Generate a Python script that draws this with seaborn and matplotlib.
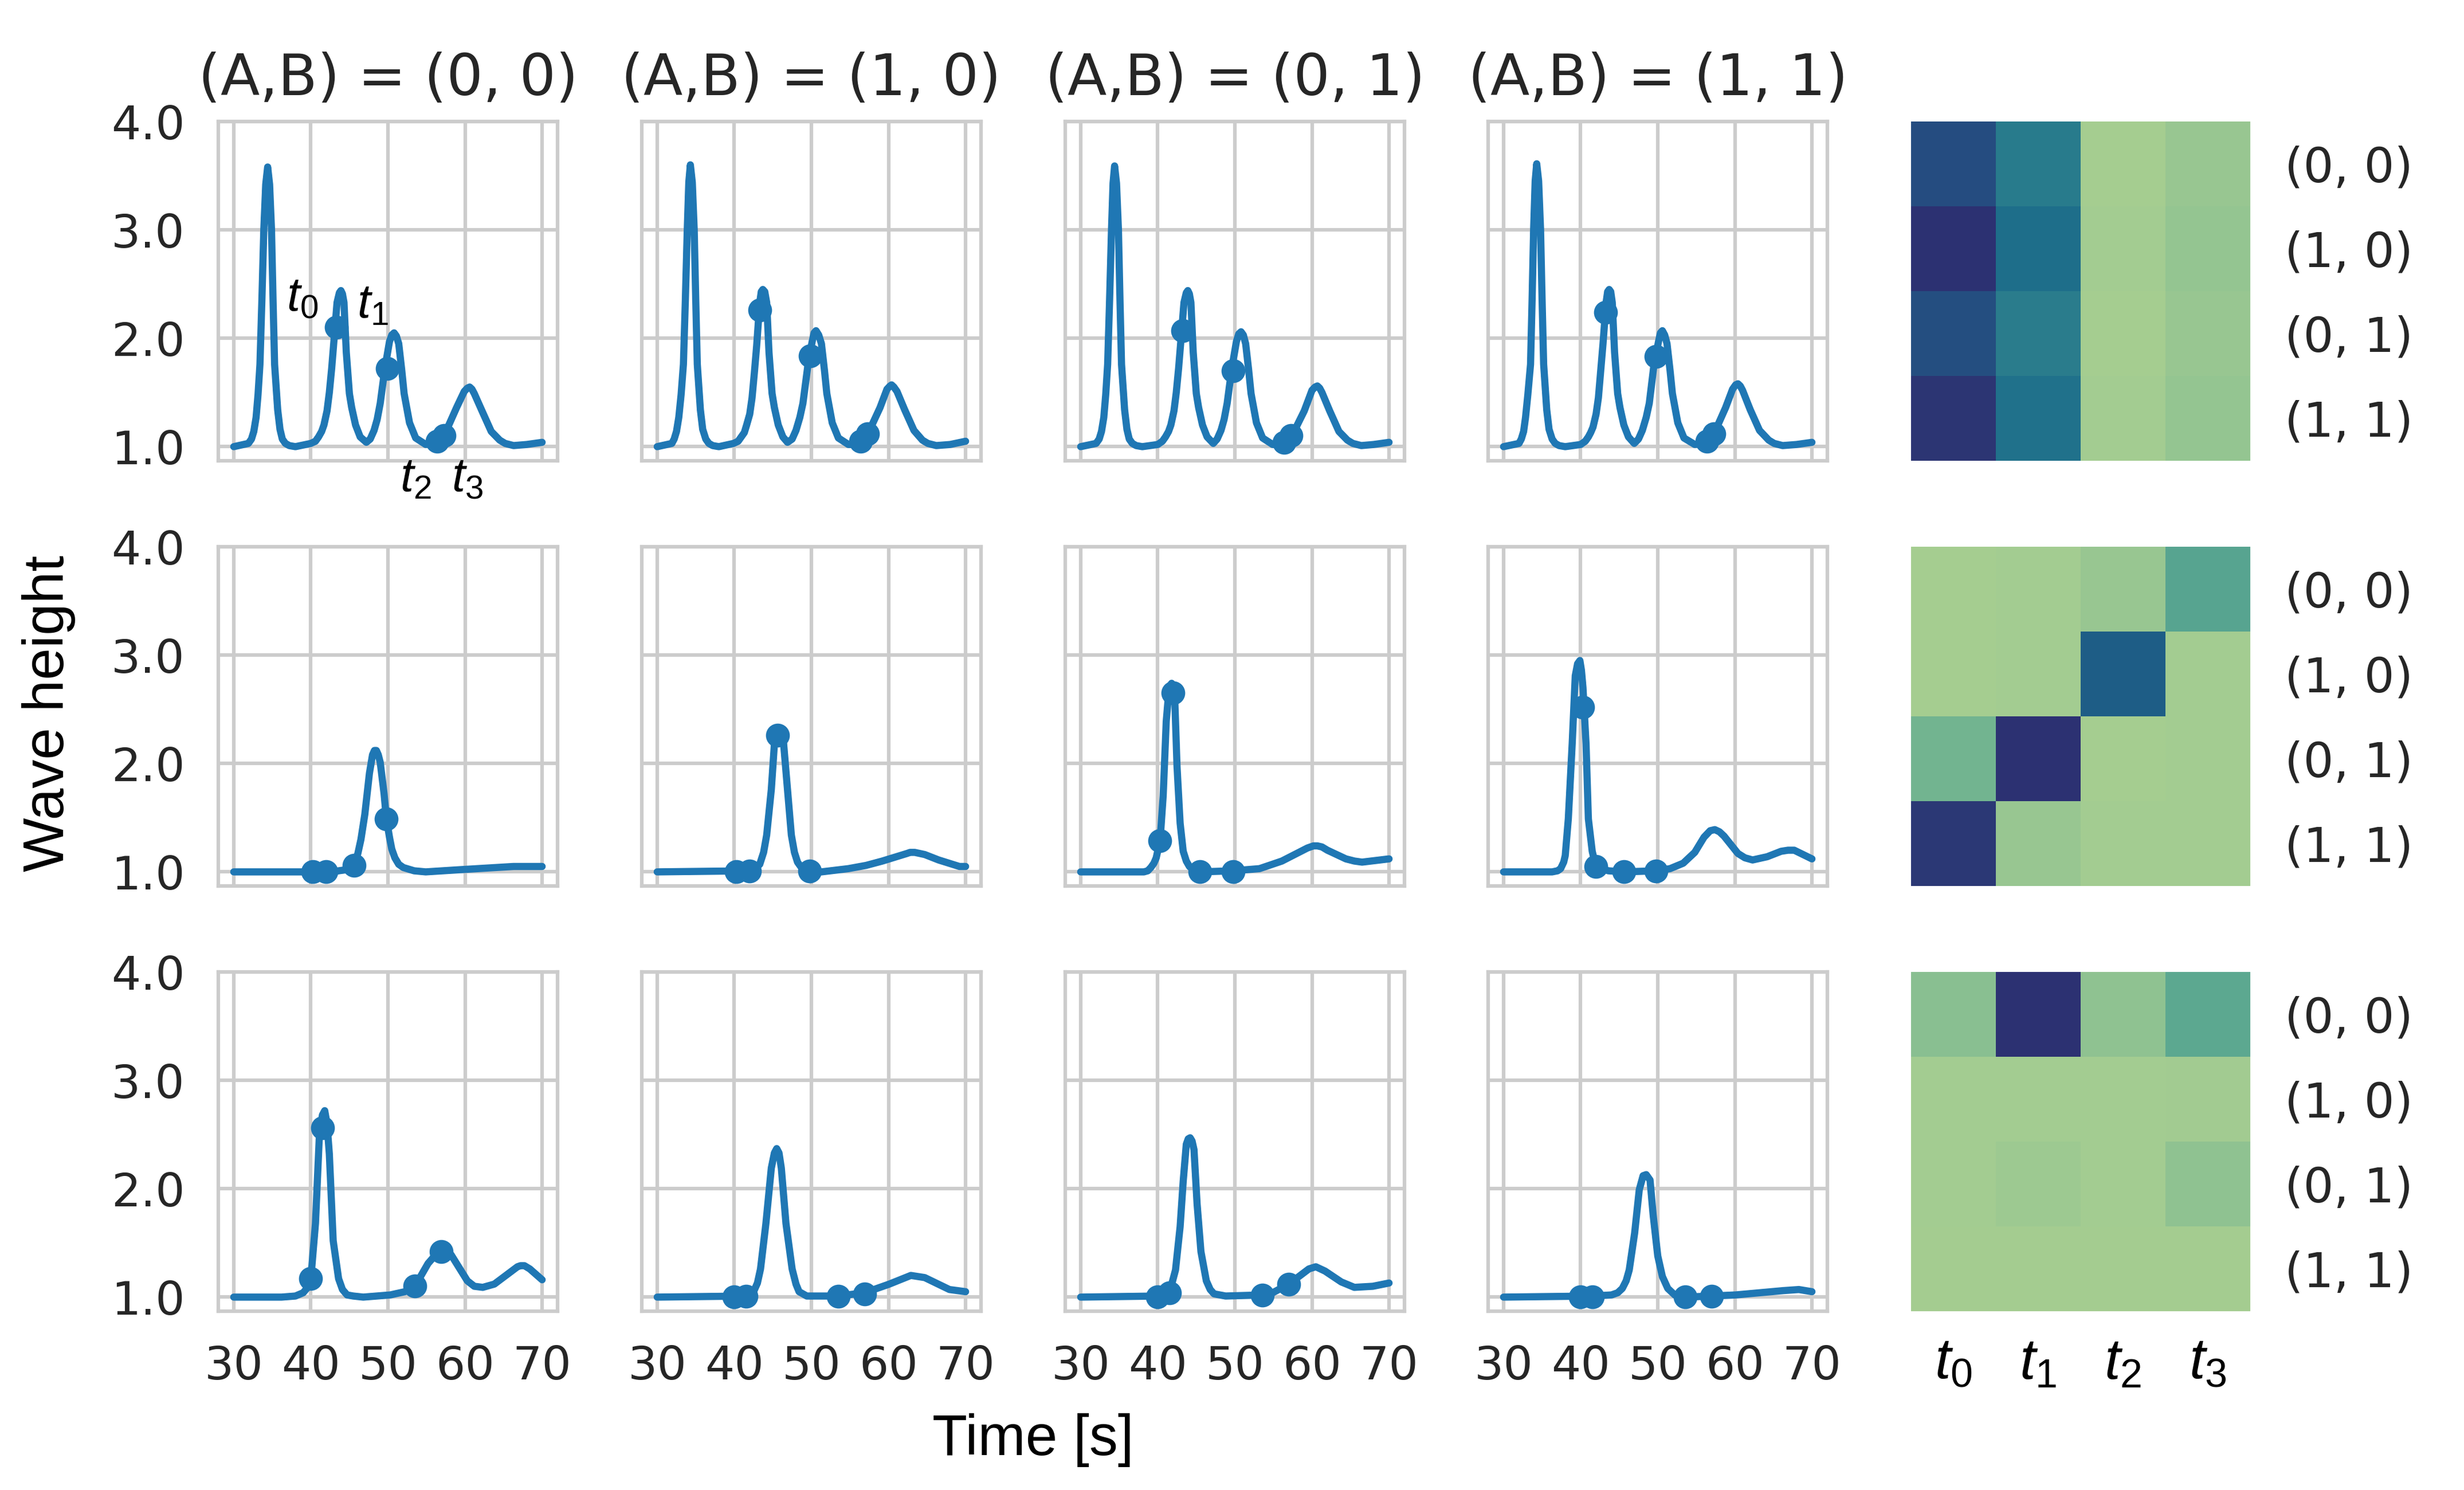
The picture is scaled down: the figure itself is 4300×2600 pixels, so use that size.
import matplotlib
matplotlib.use("Agg")
import matplotlib.pyplot as plt
import numpy as np
import seaborn as sns

# --- wave curves, one pair of lists per panel ---
t_r0c0 = [30, 31.9, 32.3, 32.6, 32.9, 33.15, 33.4, 33.65, 33.9, 34.15, 34.4, 34.65, 34.9, 35.1, 35.3, 35.7, 36, 36.3, 36.7, 37.2, 38, 40, 40.6, 41, 41.4, 41.7, 42.1, 42.4, 42.7, 43, 43.4, 43.7, 43.9, 44.1, 44.3, 44.6, 45, 45.3, 45.8, 46.4, 47.2, 47.7, 48.2, 48.6, 49, 49.6, 50.2, 50.5, 50.8, 51.1, 51.4, 51.8, 52.1, 52.8, 53.6, 54.9, 56.4, 57.4, 58.9, 59.9, 60.3, 60.6, 60.9, 61.2, 62.2, 63.4, 64.5, 65.2, 66.3, 68, 70]
h_r0c0 = [1, 1.03, 1.07, 1.14, 1.27, 1.48, 1.76, 2.35, 3.0, 3.42, 3.58, 3.42, 3.0, 2.35, 1.76, 1.34, 1.16, 1.07, 1.03, 1.01, 1, 1.03, 1.05, 1.09, 1.14, 1.2, 1.33, 1.5, 1.72, 1.98, 2.33, 2.42, 2.44, 2.41, 2.33, 1.87, 1.49, 1.36, 1.2, 1.09, 1.04, 1.07, 1.15, 1.25, 1.4, 1.72, 1.97, 2.03, 2.05, 2.02, 1.95, 1.7, 1.49, 1.22, 1.08, 1.02, 1.03, 1.12, 1.36, 1.51, 1.54, 1.55, 1.53, 1.49, 1.33, 1.14, 1.06, 1.03, 1.01, 1.02, 1.04]
t_r0c1 = [30, 31.9, 32.2, 32.5, 32.8, 33.1, 33.4, 33.65, 33.9, 34.1, 34.3, 34.55, 34.8, 35, 35.2, 35.6, 35.9, 36.3, 36.7, 37.2, 38, 39.9, 40.5, 41, 41.3, 41.6, 42, 42.3, 42.6, 42.9, 43.3, 43.5, 43.7, 43.95, 44.2, 44.5, 44.9, 45.2, 45.7, 46.3, 46.9, 47.5, 48, 48.5, 48.9, 49.6, 50.1, 50.35, 50.6, 50.95, 51.3, 51.7, 52, 52.7, 53.5, 54.8, 56.5, 57.4, 58.9, 59.8, 60.2, 60.4, 60.7, 61.1, 62.1, 63.3, 64.4, 65.1, 66.2, 68, 70]
h_r0c1 = [1, 1.03, 1.07, 1.14, 1.27, 1.48, 1.76, 2.35, 3.0, 3.44, 3.6, 3.44, 3.0, 2.35, 1.76, 1.34, 1.16, 1.07, 1.03, 1.01, 1, 1.03, 1.05, 1.1, 1.13, 1.2, 1.3, 1.45, 1.68, 1.93, 2.33, 2.43, 2.45, 2.43, 2.33, 1.87, 1.49, 1.36, 1.2, 1.09, 1.04, 1.07, 1.15, 1.27, 1.4, 1.78, 1.97, 2.05, 2.07, 2.03, 1.95, 1.7, 1.49, 1.22, 1.08, 1.02, 1.02, 1.13, 1.36, 1.53, 1.56, 1.57, 1.55, 1.51, 1.34, 1.15, 1.06, 1.03, 1.01, 1.02, 1.05]
t_r0c2 = [30, 32, 32.4, 32.7, 33, 33.25, 33.5, 33.75, 34, 34.2, 34.4, 34.65, 34.9, 35.1, 35.3, 35.7, 36, 36.3, 36.7, 37.2, 38, 40, 40.6, 41, 41.4, 41.7, 42.1, 42.4, 42.7, 43, 43.4, 43.7, 43.9, 44.1, 44.3, 44.6, 45, 45.3, 45.8, 46.4, 47.2, 47.7, 48.2, 48.6, 49, 49.6, 50.2, 50.5, 50.8, 51.1, 51.4, 51.8, 52.1, 52.8, 53.6, 54.9, 56.4, 57.4, 59, 60, 60.4, 60.7, 61, 61.3, 62.3, 63.5, 64.6, 65.3, 66.4, 68, 70]
h_r0c2 = [1, 1.03, 1.07, 1.14, 1.27, 1.48, 1.76, 2.35, 3.0, 3.43, 3.59, 3.43, 3.0, 2.35, 1.76, 1.34, 1.16, 1.07, 1.03, 1.01, 1, 1.02, 1.05, 1.09, 1.14, 1.2, 1.33, 1.5, 1.72, 1.98, 2.33, 2.42, 2.44, 2.41, 2.33, 1.87, 1.49, 1.36, 1.2, 1.09, 1.03, 1.07, 1.15, 1.25, 1.4, 1.72, 1.97, 2.04, 2.06, 2.03, 1.95, 1.7, 1.49, 1.22, 1.08, 1.02, 1.02, 1.1, 1.33, 1.52, 1.55, 1.56, 1.54, 1.5, 1.33, 1.14, 1.06, 1.03, 1.01, 1.02, 1.04]
t_r0c3 = [30, 32, 32.3, 32.6, 32.85, 33.15, 33.5, 33.7, 33.9, 34.1, 34.3, 34.55, 34.8, 35, 35.2, 35.6, 35.9, 36.3, 36.7, 37.2, 38, 40, 40.6, 41, 41.3, 41.6, 42, 42.3, 42.6, 42.9, 43.3, 43.5, 43.7, 43.9, 44.1, 44.4, 44.8, 45.1, 45.6, 46.2, 46.95, 47.5, 48, 48.5, 48.9, 49.5, 50.1, 50.35, 50.6, 50.9, 51.2, 51.6, 51.9, 52.6, 53.4, 54.8, 56.4, 57.3, 58.8, 59.7, 60.1, 60.4, 60.7, 61, 62, 63.2, 64.4, 65.1, 66.2, 68, 70]
h_r0c3 = [1, 1.03, 1.07, 1.14, 1.27, 1.48, 1.76, 2.35, 3.0, 3.45, 3.61, 3.45, 3.0, 2.35, 1.76, 1.34, 1.16, 1.07, 1.03, 1.01, 1, 1.02, 1.05, 1.09, 1.13, 1.18, 1.3, 1.45, 1.7, 1.95, 2.33, 2.43, 2.45, 2.43, 2.33, 1.87, 1.49, 1.36, 1.2, 1.09, 1.03, 1.07, 1.15, 1.27, 1.4, 1.75, 1.97, 2.05, 2.07, 2.03, 1.95, 1.7, 1.49, 1.22, 1.08, 1.02, 1.03, 1.12, 1.36, 1.53, 1.57, 1.58, 1.56, 1.52, 1.34, 1.15, 1.06, 1.03, 1.01, 1.02, 1.04]

t_r1c0 = [30, 42.9, 43.6, 44.6, 45.2, 45.6, 46.1, 46.5, 47, 47.6, 48, 48.25, 48.5, 48.75, 49, 49.5, 49.8, 50.2, 50.5, 50.9, 51.4, 52, 53.4, 54.9, 59.3, 66.3, 70]
h_r1c0 = [1, 1, 1.01, 1.02, 1.03, 1.06, 1.17, 1.3, 1.53, 1.91, 2.08, 2.12, 2.12, 2.08, 2.01, 1.72, 1.49, 1.32, 1.21, 1.13, 1.07, 1.04, 1.01, 1, 1.02, 1.05, 1.05]
t_r1c1 = [30, 42, 42.7, 43.3, 43.8, 44.2, 44.8, 45.2, 45.45, 45.7, 45.95, 46.4, 46.9, 47.4, 47.8, 48.2, 48.7, 49.2, 51.3, 54.8, 57.1, 59.2, 62.4, 62.8, 63.4, 64.7, 66.5, 69.2, 70]
h_r1c1 = [1, 1.01, 1.03, 1.07, 1.18, 1.34, 1.76, 2.18, 2.29, 2.32, 2.29, 2.18, 1.76, 1.34, 1.18, 1.09, 1.04, 1.01, 1, 1.03, 1.06, 1.1, 1.17, 1.18, 1.18, 1.16, 1.11, 1.05, 1.05]
t_r1c2 = [30, 38.2, 38.7, 39.1, 39.5, 39.8, 40.3, 40.7, 41.1, 41.4, 41.6, 41.8, 42, 42.2, 42.5, 42.9, 43.3, 43.7, 44.1, 44.6, 45.5, 49.8, 53.2, 56.1, 59.4, 60.2, 60.7, 61.3, 62, 64.4, 65.5, 66.5, 70]
h_r1c2 = [1, 1, 1.01, 1.04, 1.08, 1.13, 1.29, 1.7, 2.39, 2.64, 2.72, 2.74, 2.7, 2.6, 1.97, 1.45, 1.19, 1.1, 1.05, 1.02, 1, 1.01, 1.03, 1.1, 1.22, 1.24, 1.24, 1.23, 1.2, 1.12, 1.1, 1.09, 1.12]
t_r1c3 = [30, 36.3, 37, 37.4, 37.8, 38, 38.4, 38.9, 39.3, 39.6, 39.9, 40.1, 40.3, 40.7, 41, 41.5, 41.8, 42.1, 42.7, 43.6, 45.6, 49.8, 51.6, 53.3, 54.8, 56, 56.8, 57.4, 58, 58.6, 60.4, 61.3, 62.3, 64.2, 66, 66.9, 67.7, 70]
h_r1c3 = [1, 1, 1.01, 1.03, 1.09, 1.15, 1.49, 2.18, 2.81, 2.92, 2.95, 2.86, 2.7, 2.18, 1.49, 1.19, 1.1, 1.05, 1.03, 1.01, 1, 1.01, 1.03, 1.08, 1.18, 1.32, 1.38, 1.39, 1.37, 1.33, 1.17, 1.13, 1.11, 1.14, 1.19, 1.2, 1.2, 1.12]

t_r2c0 = [30, 36.2, 38, 39, 39.6, 40, 40.6, 41.1, 41.5, 41.8, 42.1, 42.4, 42.9, 43.6, 44.1, 44.7, 45.5, 46.8, 50.3, 52.2, 53.5, 55.2, 56.3, 56.9, 57.5, 58.2, 60.3, 61.2, 62.3, 63.8, 66.8, 67.2, 67.7, 68.4, 70]
h_r2c0 = [1, 1, 1.01, 1.04, 1.09, 1.17, 1.68, 2.48, 2.68, 2.72, 2.6, 2.32, 1.52, 1.17, 1.07, 1.02, 1.01, 1, 1.02, 1.05, 1.1, 1.31, 1.4, 1.42, 1.42, 1.39, 1.15, 1.1, 1.09, 1.12, 1.28, 1.29, 1.29, 1.26, 1.16]
t_r2c1 = [30, 41.5, 42, 42.5, 43, 43.4, 44.1, 44.8, 45.2, 45.5, 45.8, 46.1, 46.7, 47.5, 48, 48.4, 48.9, 49.4, 53.5, 56.9, 60.1, 62.9, 64.7, 67.9, 70]
h_r2c1 = [1, 1.01, 1.02, 1.05, 1.13, 1.26, 1.68, 2.19, 2.33, 2.37, 2.33, 2.19, 1.68, 1.26, 1.12, 1.05, 1.03, 1.01, 1.01, 1.04, 1.12, 1.2, 1.18, 1.07, 1.05]
t_r2c2 = [30, 40, 41.1, 41.7, 42.3, 42.9, 43.3, 43.7, 43.95, 44.2, 44.45, 44.7, 45.1, 45.6, 46.3, 46.8, 47.3, 48.8, 53.6, 54.9, 57, 59.6, 60.5, 61.7, 63.8, 65.5, 67.9, 70]
h_r2c2 = [1, 1.01, 1.04, 1.09, 1.25, 1.65, 2.07, 2.41, 2.46, 2.47, 2.44, 2.36, 1.86, 1.42, 1.15, 1.07, 1.03, 1.01, 1.02, 1.04, 1.12, 1.26, 1.28, 1.24, 1.14, 1.09, 1.1, 1.13]
t_r2c3 = [30, 41.5, 44, 44.8, 45.4, 45.9, 46.3, 47, 47.6, 48.1, 48.5, 49, 49.4, 50, 50.6, 51.3, 52.2, 53.6, 57, 60.1, 66.3, 68.3, 70]
h_r2c3 = [1, 1.01, 1.02, 1.04, 1.08, 1.15, 1.25, 1.59, 1.99, 2.12, 2.13, 2.08, 1.76, 1.38, 1.19, 1.08, 1.02, 1, 1.01, 1.02, 1.06, 1.07, 1.05]

# --- marked points t0..t3 per panel ---
mt_r0c0 = [43.3, 49.9, 56.4, 57.3]
mh_r0c0 = [2.10, 1.72, 1.05, 1.10]
mt_r0c1 = [43.3, 49.85, 56.4, 57.3]
mh_r0c1 = [2.26, 1.84, 1.05, 1.12]
mt_r0c2 = [43.2, 49.8, 56.4, 57.3]
mh_r0c2 = [2.07, 1.70, 1.04, 1.10]
mt_r0c3 = [43.25, 49.8, 56.4, 57.3]
mh_r0c3 = [2.24, 1.83, 1.05, 1.12]
mt_r1c0 = [40.25, 42, 45.6, 49.8]
mh_r1c0 = [1.0, 1.0, 1.06, 1.49]
mt_r1c1 = [40.25, 42, 45.6, 49.8]
mh_r1c1 = [1.0, 1.01, 2.26, 1.01]
mt_r1c2 = [40.3, 42, 45.5, 49.8]
mh_r1c2 = [1.29, 2.65, 1.0, 1.0]
mt_r1c3 = [40.25, 42, 45.6, 49.8]
mh_r1c3 = [2.52, 1.05, 1.0, 1.01]
mt_r2c0 = [40, 41.5, 53.5, 56.9]
mh_r2c0 = [1.17, 2.56, 1.10, 1.42]
mt_r2c1 = [40, 41.5, 53.5, 56.9]
mh_r2c1 = [1.0, 1.01, 1.01, 1.03]
mt_r2c2 = [40, 41.5, 53.6, 57]
mh_r2c2 = [1.0, 1.04, 1.02, 1.12]
mt_r2c3 = [40, 41.5, 53.6, 57]
mh_r2c3 = [1.0, 1.0, 1.0, 1.01]

# --- heatmap cells ---
cells_r0 = [[0.85, 0.57, 0.00, 0.05], [1.00, 0.65, 0.01, 0.06], [0.84, 0.56, 0.00, 0.05], [0.98, 0.63, 0.01, 0.06]]
cells_r1 = [[0.00, 0.01, 0.05, 0.30], [0.00, 0.01, 0.75, 0.01], [0.18, 1.00, 0.00, 0.01], [0.96, 0.05, 0.01, 0.01]]
cells_r2 = [[0.10, 1.00, 0.08, 0.27], [0.01, 0.01, 0.01, 0.015], [0.01, 0.03, 0.01, 0.08], [0.005, 0.005, 0.005, 0.005]]

state_labels = ["(0, 0)", "(1, 0)", "(0, 1)", "(1, 1)"]
title_labels = ["(A,B) = (0, 0)", "(A,B) = (1, 0)", "(A,B) = (0, 1)", "(A,B) = (1, 1)"]
time_labels = ["$t_0$", "$t_1$", "$t_2$", "$t_3$"]
x_ticks = [30, 40, 50, 60, 70]
y_ticks = [1.0, 2.0, 3.0, 4.0]

curves = [[(t_r0c0, h_r0c0), (t_r0c1, h_r0c1), (t_r0c2, h_r0c2), (t_r0c3, h_r0c3)],
          [(t_r1c0, h_r1c0), (t_r1c1, h_r1c1), (t_r1c2, h_r1c2), (t_r1c3, h_r1c3)],
          [(t_r2c0, h_r2c0), (t_r2c1, h_r2c1), (t_r2c2, h_r2c2), (t_r2c3, h_r2c3)]]
marks = [[(mt_r0c0, mh_r0c0), (mt_r0c1, mh_r0c1), (mt_r0c2, mh_r0c2), (mt_r0c3, mh_r0c3)],
         [(mt_r1c0, mh_r1c0), (mt_r1c1, mh_r1c1), (mt_r1c2, mh_r1c2), (mt_r1c3, mh_r1c3)],
         [(mt_r2c0, mh_r2c0), (mt_r2c1, mh_r2c1), (mt_r2c2, mh_r2c2), (mt_r2c3, mh_r2c3)]]
cells = [cells_r0, cells_r1, cells_r2]

W, H = 4300, 2600
COL_LEFT = [381, 1120, 1859, 2597]
ROW_TOP = [212, 954, 1696]
PANEL = 592
HEAT_LEFT = 3335
LINE_COLOR = "#1f77b4"

sns.set_theme(style="whitegrid", rc={
    "axes.edgecolor": ".8", "axes.linewidth": 1.5, "grid.color": ".8", "grid.linewidth": 1.5,
    "mathtext.fontset": "custom", "mathtext.it": "Liberation Sans:italic", "mathtext.rm": "Liberation Sans",
})
plt.rcParams["font.family"] = ["DejaVu Sans"]


def panel_axes(fig, left, top):
    return fig.add_axes([left / W, 1 - (top + PANEL) / H, PANEL / W, PANEL / H])


fig = plt.figure(figsize=(W / 300, H / 300), dpi=300)

for r, top in enumerate(ROW_TOP):
    for c, left in enumerate(COL_LEFT):
        ax = panel_axes(fig, left, top)
        t, h = curves[r][c]
        mt, mh = marks[r][c]
        sns.lineplot(x=t, y=h, ax=ax, color=LINE_COLOR, linewidth=3.0, sort=False, estimator=None,
                     solid_capstyle="round", solid_joinstyle="round")
        sns.scatterplot(x=mt, y=mh, ax=ax, color=LINE_COLOR, s=100, linewidth=0, zorder=5)
        ax.set_xlim(28, 72)
        ax.set_ylim(0.87, 4.0)
        ax.set_xticks(x_ticks)
        ax.set_yticks(y_ticks)
        ax.tick_params(length=0, pad=14, labelsize=19.4,
                       labelbottom=(r == 2), labelleft=(c == 0))
        ax.yaxis.set_major_formatter("{x:.1f}")
        if r == 0:
            ax.set_title(title_labels[c], fontsize=24, pad=11, color=".15")
        if r == 0 and c == 0:
            # labels of the four marked times
            for lab, xt, yt in zip(time_labels, [38.9, 48.0, 53.6, 60.3], [2.38, 2.31, 0.71, 0.71]):
                ax.text(xt, yt, lab, fontsize=20, color="black", ha="center", va="center", clip_on=False)

    hax = panel_axes(fig, HEAT_LEFT, top)
    sns.heatmap(np.array(cells[r]), ax=hax, cmap="crest", vmin=0, vmax=1, cbar=False,
                xticklabels=time_labels, yticklabels=state_labels)
    hax.yaxis.tick_right()
    hax.tick_params(axis="y", length=0, pad=14.5, labelsize=20, rotation=0)
    hax.tick_params(axis="x", length=0, pad=10, labelsize=24, labelcolor="black", labelbottom=(r == 2))

fig.text(1803 / W, 1 - 2513 / H, "Time [s]", fontsize=24, family="Liberation Sans",
         color="black", ha="center", va="center")
fig.text(85 / W, 1 - 1245 / H, "Wave height", fontsize=24, family="Liberation Sans",
         color="black", ha="center", va="center", rotation=90)

fig.savefig("out.png", dpi=300)
